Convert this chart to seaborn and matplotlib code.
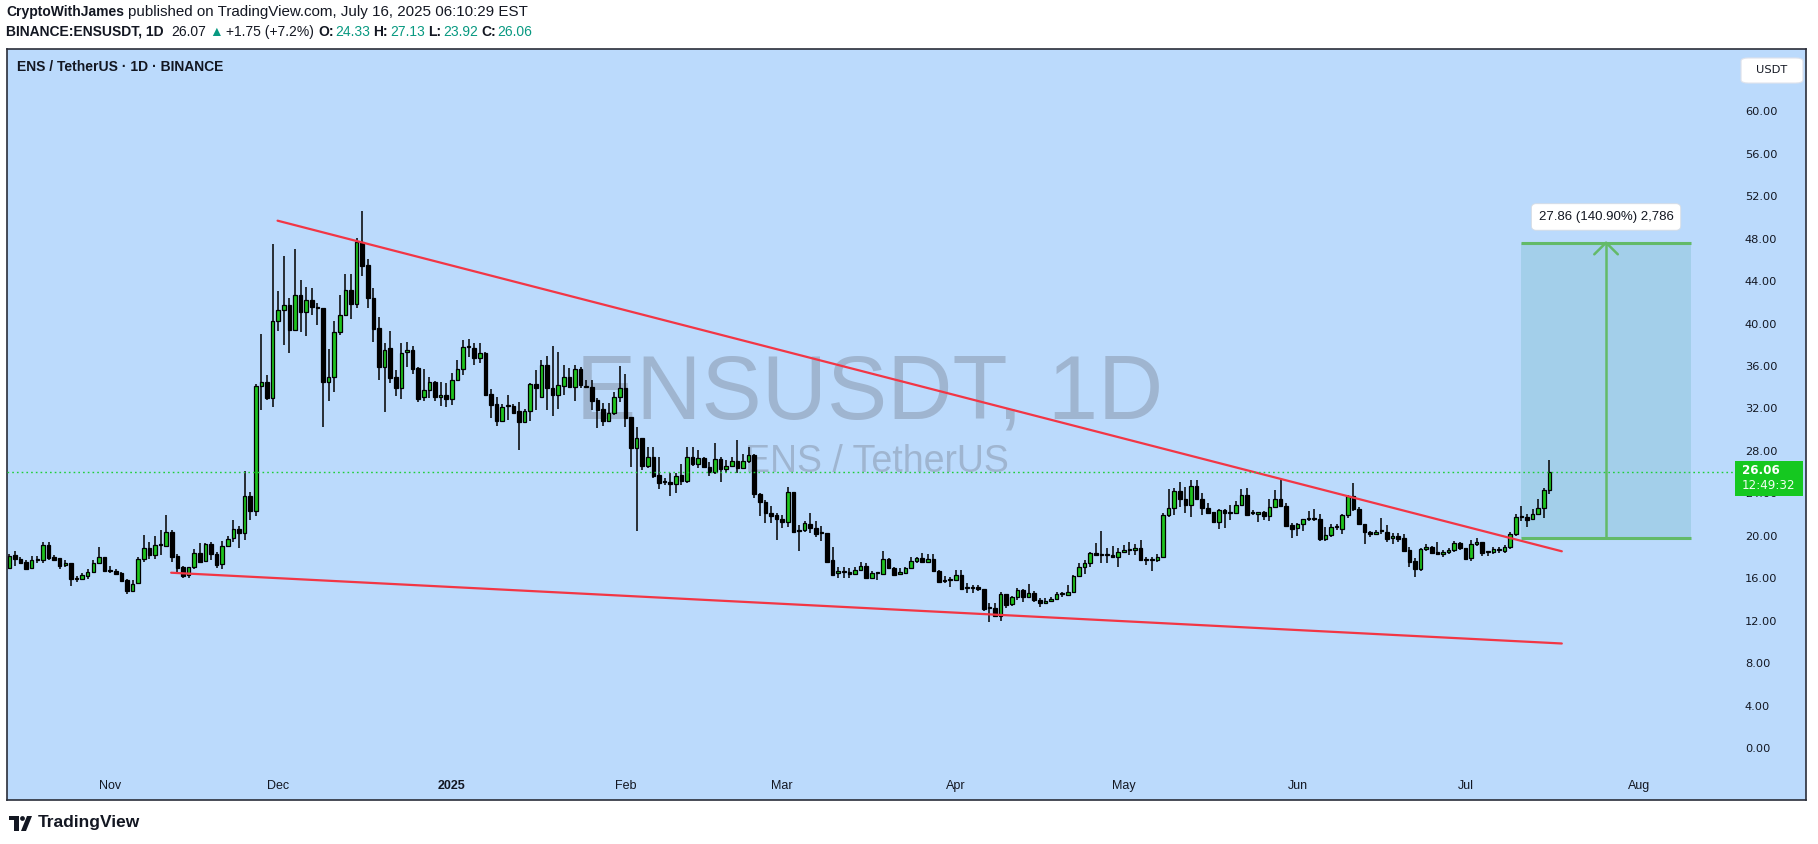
import numpy as np
import pandas as pd
import matplotlib
matplotlib.use("Agg")
import matplotlib.pyplot as plt
import matplotlib.dates as mdates
import seaborn as sns
from matplotlib.patches import Rectangle, FancyBboxPatch, Polygon, Circle
from matplotlib.transforms import blended_transform_factory, IdentityTransform

# ENSUSDT daily candles, 2024-10-14 .. 2025-07-16
start_date = "2024-10-14"
opens = [
    16.93, 18.16, 17.81, 17.50, 16.93, 17.70, 17.69, 19.10, 17.97, 17.88,
    17.22, 17.40, 16.02, 15.96, 16.24, 16.56, 17.40, 17.97, 16.81, 16.71,
    16.46, 15.83, 14.77, 15.52, 17.78, 18.82, 18.16, 19.20, 19.07, 20.33,
    18.06, 17.03, 16.27, 17.03, 18.35, 17.66, 19.20, 18.28, 17.31, 19.01,
    19.76, 20.61, 20.23, 23.72, 22.37, 34.08, 34.49, 32.95, 40.21, 41.25,
    41.72, 39.42, 42.66, 41.06, 42.19, 41.53, 41.47, 34.52, 35.00, 39.17,
    40.77, 43.13, 41.87, 47.69, 45.52, 42.38, 39.55, 35.94, 37.67, 34.96,
    33.96, 37.29, 37.48, 35.78, 33.05, 33.71, 34.46, 33.05, 33.24, 32.92,
    34.65, 35.75, 37.76, 37.67, 36.72, 37.20, 33.33, 32.39, 30.79, 32.20,
    32.20, 31.76, 30.75, 31.73, 34.27, 33.11, 36.06, 33.90, 33.27, 34.12,
    34.93, 34.05, 35.69, 34.05, 34.05, 32.80, 31.92, 30.85, 31.54, 33.05,
    33.96, 31.17, 28.25, 29.19, 26.61, 27.40, 25.70, 25.10, 25.10, 24.85,
    25.70, 25.20, 27.40, 26.74, 27.30, 26.52, 25.98, 27.21, 26.27, 26.61,
    27.08, 26.36, 27.08, 27.62, 23.91, 23.22, 22.15, 21.96, 21.58, 21.33,
    24.16, 20.49, 20.55, 21.08, 20.70, 20.23, 20.23, 17.72, 16.46, 16.62,
    16.56, 16.40, 16.78, 17.15, 16.06, 16.46, 16.40, 17.78, 16.93, 16.40,
    16.53, 16.93, 17.59, 17.91, 17.50, 17.78, 16.71, 15.73, 15.83, 15.80,
    16.27, 15.05, 15.11, 15.14, 14.95, 13.16, 13.16, 12.47, 14.48, 13.54,
    14.20, 14.89, 14.20, 14.58, 13.95, 13.63, 13.85, 14.01, 14.48, 14.38,
    14.67, 16.18, 17.03, 17.40, 18.35, 18.19, 18.19, 18.19, 18.03, 18.47,
    18.66, 18.66, 18.85, 17.69, 17.69, 17.69, 18.03, 21.96, 22.62, 24.19,
    23.47, 22.87, 24.69, 23.47, 22.62, 22.21, 21.33, 22.43, 22.18, 22.18,
    22.90, 23.84, 22.12, 22.05, 22.21, 21.90, 22.75, 23.47, 22.84, 21.02,
    20.77, 21.08, 21.55, 21.55, 21.58, 19.73, 20.04, 20.80, 20.61, 21.93,
    23.72, 22.49, 21.08, 20.39, 20.14, 20.45, 20.33, 19.76, 19.98, 19.76,
    18.66, 17.62, 16.90, 18.72, 18.94, 18.44, 18.25, 18.44, 18.63, 19.29,
    18.82, 17.88, 19.19, 19.38, 18.44, 18.44, 18.63, 18.60, 18.91, 20.14,
    21.80, 21.74, 21.55, 22.02, 22.59, 24.33,
]
highs = [
    18.28, 18.57, 17.97, 17.72, 18.10, 18.10, 19.40, 19.40, 18.16, 17.88,
    17.69, 17.47, 16.21, 16.46, 16.84, 17.72, 18.94, 17.97, 17.15, 16.84,
    16.59, 15.90, 15.83, 17.97, 20.08, 19.40, 19.98, 20.50, 21.96, 20.55,
    18.28, 17.15, 17.09, 18.72, 19.29, 19.35, 19.40, 18.47, 19.54, 19.98,
    21.49, 20.92, 26.10, 24.09, 34.30, 38.98, 35.20, 47.47, 43.07, 46.37,
    42.38, 47.03, 44.10, 43.45, 43.32, 41.90, 41.47, 37.60, 40.24, 42.69,
    44.67, 44.67, 48.03, 50.61, 46.08, 43.38, 40.62, 38.14, 39.30, 35.62,
    38.17, 38.23, 37.89, 35.94, 35.72, 34.93, 34.59, 34.49, 34.43, 35.31,
    36.53, 38.45, 38.51, 38.20, 38.14, 37.29, 33.80, 33.11, 32.42, 33.24,
    32.42, 32.58, 31.91, 34.40, 35.62, 36.57, 36.97, 37.89, 37.29, 36.09,
    35.78, 36.06, 35.94, 34.68, 34.68, 32.95, 32.48, 32.54, 33.52, 36.00,
    35.22, 31.17, 30.22, 29.19, 28.40, 28.34, 27.40, 25.48, 25.95, 25.95,
    26.77, 28.34, 28.34, 28.09, 27.46, 26.99, 28.72, 27.46, 27.15, 27.46,
    29.03, 27.71, 28.34, 27.68, 24.07, 23.38, 22.81, 22.12, 21.96, 24.63,
    24.16, 21.02, 21.40, 22.18, 21.40, 20.93, 20.23, 18.97, 17.09, 17.09,
    16.93, 17.09, 17.50, 17.40, 16.71, 16.62, 18.57, 17.88, 17.09, 16.93,
    17.09, 18.03, 18.03, 18.41, 18.25, 18.25, 16.80, 16.21, 16.15, 16.78,
    16.78, 15.52, 15.36, 15.36, 15.02, 13.63, 13.63, 14.70, 14.48, 14.32,
    15.05, 14.95, 15.46, 14.83, 14.10, 14.10, 14.20, 14.67, 14.67, 15.36,
    16.30, 17.47, 17.72, 18.50, 19.29, 20.45, 18.82, 19.07, 18.82, 19.13,
    19.38, 19.23, 19.60, 18.03, 18.03, 18.28, 22.12, 24.38, 24.53, 25.10,
    24.63, 25.26, 25.26, 24.00, 23.06, 22.27, 22.49, 22.49, 22.90, 23.31,
    24.41, 24.47, 22.43, 22.27, 22.33, 23.47, 24.31, 25.35, 23.06, 21.18,
    21.24, 21.58, 22.33, 22.49, 22.02, 20.80, 21.11, 21.11, 22.02, 23.81,
    24.97, 22.68, 21.08, 20.45, 20.55, 21.65, 21.02, 20.23, 20.23, 20.14,
    18.97, 17.94, 18.88, 19.19, 19.07, 19.38, 18.66, 18.82, 19.51, 19.44,
    18.88, 19.60, 19.76, 19.44, 18.57, 18.97, 18.97, 19.13, 20.33, 22.05,
    22.80, 22.05, 22.49, 23.47, 24.47, 27.13,
]
lows = [
    16.84, 17.19, 17.37, 16.84, 16.84, 17.47, 17.47, 17.72, 17.63, 16.84,
    17.03, 15.30, 15.65, 15.90, 15.90, 16.46, 17.34, 16.62, 16.53, 16.27,
    15.74, 14.55, 14.70, 15.46, 17.56, 17.78, 17.78, 18.16, 18.98, 17.56,
    16.53, 16.05, 16.00, 16.90, 17.40, 17.60, 17.72, 16.97, 16.84, 18.91,
    19.42, 18.88, 19.60, 21.48, 21.90, 31.85, 32.80, 32.17, 39.33, 37.98,
    37.26, 39.33, 39.24, 38.86, 40.84, 39.90, 30.28, 32.73, 33.58, 38.95,
    40.71, 40.46, 41.46, 44.51, 41.50, 38.29, 34.68, 31.70, 34.37, 33.17,
    32.92, 35.87, 35.28, 32.64, 32.73, 33.02, 32.70, 32.23, 32.17, 32.29,
    34.55, 35.15, 36.88, 36.06, 36.25, 33.17, 31.07, 30.35, 30.75, 30.91,
    31.54, 28.08, 30.66, 30.82, 31.85, 33.11, 31.85, 31.29, 31.98, 33.27,
    33.96, 32.70, 33.96, 33.90, 31.85, 30.12, 30.35, 30.75, 31.35, 32.64,
    30.29, 26.52, 20.49, 26.20, 26.36, 25.42, 24.38, 24.79, 23.78, 24.07,
    24.79, 24.95, 26.61, 26.36, 26.36, 25.67, 25.82, 25.10, 25.89, 26.52,
    25.95, 26.27, 26.90, 23.60, 21.87, 21.24, 21.24, 19.60, 20.70, 20.80,
    20.23, 18.60, 20.33, 20.30, 19.92, 19.54, 17.47, 16.21, 15.99, 15.99,
    15.99, 16.31, 16.71, 15.96, 15.99, 15.84, 16.28, 16.84, 16.21, 16.28,
    16.40, 16.84, 17.47, 17.40, 17.40, 16.59, 15.60, 15.58, 15.14, 15.71,
    14.89, 14.58, 14.58, 14.83, 12.91, 11.90, 12.37, 12.00, 13.22, 13.38,
    13.95, 13.79, 14.10, 13.79, 13.32, 13.57, 13.76, 13.95, 14.20, 14.38,
    14.58, 16.08, 16.37, 17.09, 18.10, 17.47, 17.47, 17.97, 17.09, 18.35,
    18.19, 18.19, 17.69, 17.25, 16.71, 17.56, 17.97, 21.80, 21.96, 22.75,
    22.18, 21.74, 23.37, 21.96, 22.12, 21.24, 20.60, 20.70, 21.49, 22.12,
    22.81, 21.93, 21.96, 21.33, 21.49, 21.43, 22.65, 22.75, 20.86, 19.82,
    19.98, 20.48, 21.40, 21.43, 19.54, 19.54, 19.92, 20.55, 20.17, 21.71,
    22.33, 21.02, 19.22, 19.85, 20.07, 20.14, 19.44, 19.19, 19.44, 18.44,
    17.09, 16.08, 16.71, 18.60, 18.35, 18.19, 17.97, 18.28, 18.44, 18.66,
    17.78, 17.66, 19.04, 18.13, 18.13, 18.28, 18.41, 18.35, 18.78, 19.98,
    21.42, 20.86, 21.49, 21.96, 21.71, 23.92,
]
closes = [
    18.13, 17.78, 17.47, 16.90, 17.69, 17.68, 19.10, 17.94, 17.72, 17.19,
    17.40, 15.96, 15.96, 16.27, 16.56, 17.44, 17.97, 16.71, 16.65, 16.43,
    15.77, 14.77, 15.49, 17.78, 18.82, 18.22, 19.10, 19.16, 20.33, 18.03,
    17.00, 16.21, 17.03, 18.35, 17.56, 19.20, 18.25, 17.28, 19.01, 19.67,
    20.61, 20.23, 23.72, 22.37, 34.08, 34.49, 33.00, 40.21, 41.25, 41.72,
    39.42, 42.66, 41.06, 42.19, 41.53, 41.50, 34.52, 35.00, 39.17, 40.77,
    43.13, 41.87, 47.69, 45.46, 42.38, 39.52, 35.94, 37.54, 34.90, 33.96,
    37.26, 37.48, 35.69, 32.92, 33.71, 34.46, 33.05, 33.24, 32.92, 34.65,
    35.69, 37.76, 37.76, 36.72, 37.20, 33.27, 32.32, 30.79, 32.10, 32.20,
    31.60, 30.75, 31.73, 34.27, 33.90, 36.06, 33.90, 33.27, 34.21, 34.93,
    34.05, 35.69, 34.18, 34.05, 32.73, 31.85, 30.85, 31.54, 33.05, 33.96,
    31.14, 28.25, 29.19, 26.61, 27.40, 25.67, 25.01, 25.10, 24.85, 25.67,
    25.20, 27.40, 26.74, 27.30, 26.52, 25.98, 27.21, 26.27, 26.61, 27.08,
    26.36, 27.08, 27.62, 23.91, 23.22, 22.12, 21.90, 21.55, 21.33, 24.16,
    20.33, 20.49, 21.18, 20.70, 20.14, 20.23, 17.56, 16.31, 16.68, 16.62,
    16.37, 16.78, 17.15, 16.06, 16.46, 16.46, 17.78, 16.93, 16.31, 16.62,
    16.96, 17.59, 17.91, 17.53, 17.78, 16.68, 15.67, 15.73, 15.83, 16.27,
    14.95, 15.05, 15.11, 14.95, 13.10, 13.16, 12.47, 14.48, 13.47, 14.20,
    14.89, 14.20, 14.58, 13.95, 13.63, 13.85, 14.04, 14.48, 14.48, 14.67,
    16.18, 17.03, 17.43, 18.35, 18.16, 18.19, 18.19, 18.03, 18.44, 18.66,
    18.66, 18.85, 17.69, 17.69, 17.69, 17.97, 21.96, 22.62, 24.19, 23.43,
    22.87, 24.69, 23.43, 22.62, 22.18, 21.33, 22.43, 22.18, 22.18, 22.90,
    23.84, 21.99, 22.12, 22.21, 21.90, 22.75, 23.47, 22.81, 20.95, 20.64,
    21.08, 21.58, 21.55, 21.55, 19.69, 20.04, 20.80, 20.80, 21.93, 23.72,
    22.49, 21.08, 20.39, 20.14, 20.39, 20.45, 19.70, 19.98, 19.70, 18.60,
    17.56, 16.90, 18.72, 18.94, 18.41, 18.25, 18.44, 18.63, 19.29, 18.82,
    17.84, 19.19, 19.38, 18.35, 18.44, 18.72, 18.72, 18.91, 20.14, 21.80,
    21.80, 21.49, 22.02, 22.59, 24.31, 26.06,
]

# trend lines: (days after start, price)
upper_trend_days = [47.9, 277.2]
upper_trend_price = [49.70, 18.54]
lower_trend_days = [28.9, 277.2]
lower_trend_price = [16.52, 9.85]

# price range tool
range_days = [269.9, 300.3]
range_low, range_high = 19.77, 47.63
range_label = "27.86 (140.90%) 2,786"

price_ticks = [0, 4, 8, 12, 16, 20, 24, 28, 32, 36, 40, 44, 48, 52, 56, 60]
month_starts = ["2024-11-01", "2024-12-01", "2025-01-01", "2025-02-01", "2025-03-01",
                "2025-04-01", "2025-05-01", "2025-06-01", "2025-07-01", "2025-08-01"]
month_labels = ["Nov", "Dec", "2025", "Feb", "Mar", "Apr", "May", "Jun", "Jul", "Aug"]
last_price = 26.06

sns.set_style("white")
plt.rcParams["font.family"] = ["Liberation Sans", "DejaVu Sans"]

BG = "#bbdafc"
GREEN = "#1ec41e"
RED = "#f23645"
TEAL = "#089981"
INK = "#131722"

W, H = 1818, 844
fig = plt.figure(figsize=(W / 100, H / 100), dpi=100, facecolor="white")
ax = fig.add_axes([7 / W, 1 - 800 / H, (1806 - 7) / W, (800 - 49) / H])
ax.set_facecolor(BG)

t0 = mdates.date2num(pd.Timestamp(start_date))
dates = pd.date_range(start_date, periods=len(closes), freq="D")
xs = mdates.date2num(dates)

o = np.array(opens)
c = np.array(closes)
up = c >= o
body_lo = np.minimum(o, c)
body_h = np.maximum(np.abs(c - o), 0.09)
colors = np.where(up, GREEN, "#000000")

# measurement box sits under the candles
ax.add_patch(Rectangle((t0 + range_days[0], range_low), range_days[1] - range_days[0],
                       range_high - range_low, fc="#a3cfea", ec="none", zorder=1.2))
ax.hlines([range_low, range_high], t0 + range_days[0], t0 + range_days[1],
          color="#63ba68", lw=2.2, zorder=1.3)
mid = t0 + (range_days[0] + range_days[1]) / 2
ax.plot([mid, mid], [range_low, range_high], color="#63ba68", lw=1.8, zorder=1.3)
ax.plot([mid - 2.1, mid, mid + 2.1], [range_high - 1.1, range_high, range_high - 1.1],
        color="#63ba68", lw=1.8, zorder=1.3)
ax.text(mid, 50.05, range_label, ha="center", va="center", fontsize=9.5, color=INK,
        zorder=8, bbox=dict(boxstyle="round,pad=0.55,rounding_size=0.35", fc="white",
                            ec="#d5dbe3", lw=0.6))

# watermark
ax.text(870 / W, 1 - 419 / H, "ENSUSDT, 1D", transform=fig.transFigure, ha="center",
        va="baseline", fontsize=65, color="#9fb5d0", zorder=0.5)
ax.text(877 / W, 1 - 472 / H, "ENS / TetherUS", transform=fig.transFigure, ha="center",
        va="baseline", fontsize=27, color="#9fb5d0", zorder=0.5)

# candles
ax.vlines(xs, lows, highs, color="#000000", lw=1.1, zorder=3)
ax.bar(xs, body_h, bottom=body_lo, width=0.64, color=colors, edgecolor="#000000",
       linewidth=0.9, zorder=4)

# trend lines
sns.lineplot(x=[t0 + d for d in upper_trend_days], y=upper_trend_price, ax=ax,
             color=RED, lw=1.6, zorder=5)
sns.lineplot(x=[t0 + d for d in lower_trend_days], y=lower_trend_price, ax=ax,
             color=RED, lw=1.6, zorder=5)

ax.set_xlim(t0 - 0.41, t0 + 320.8)
ax.set_ylim(-4.9, 65.88)

# last price dotted line + label
ax.axhline(last_price, xmin=0, xmax=(1735 - 7) / 1799, color="#1fcf3a",
           ls=(0, (1.2, 2.2)), lw=1.0, zorder=6)
tr = blended_transform_factory(ax.transAxes, ax.transData)
ax.add_patch(Rectangle((0.9605, 23.75), 0.0378, 3.3, transform=tr, fc="#15c820",
                       ec="none", clip_on=False, zorder=10))
ax.text(0.9645, 26.12, f"{last_price:.2f}", transform=tr, ha="left", va="center",
        fontsize=8.6, color="white", fontweight="bold", family="DejaVu Sans", zorder=11)
ax.text(0.9645, 24.72, "12:49:32", transform=tr, ha="left", va="center",
        fontsize=8.6, color="#f0fff0", family="DejaVu Sans", zorder=11)

# USDT box
ax.add_patch(FancyBboxPatch((0.9639, 0.9547), 0.0344, 0.0333, boxstyle="round,pad=0,rounding_size=0.004",
                            transform=ax.transAxes, fc="white", ec="#e0e3eb", lw=0.8, zorder=10))
ax.text(0.981, 0.9714, "USDT", transform=ax.transAxes, ha="center", va="center",
        fontsize=8.2, color=INK, family="DejaVu Sans", zorder=11)

# axes
ax.set_yticks(price_ticks)
ax.set_yticklabels([f"{v:.2f}" for v in price_ticks])
ax.yaxis.tick_right()
ax.tick_params(axis="y", length=0, pad=-44, labelsize=8.2, labelcolor=INK)
for lab in ax.get_yticklabels():
    lab.set_fontfamily("DejaVu Sans")
ax.set_xticks(mdates.date2num(pd.to_datetime(month_starts)))
ax.set_xticklabels(month_labels)
ax.tick_params(axis="x", length=0, pad=-14.4, labelsize=9, labelcolor=INK)
for lab in ax.get_xticklabels():
    if lab.get_text() == "2025":
        lab.set_fontweight("bold")
for s in ax.spines.values():
    s.set_color("#2a2e39")
    s.set_linewidth(1.2)
ax.set_xlabel("")
ax.set_ylabel("")

# header texts (pixel coordinates)
ident = IdentityTransform()


def put_runs(x, y, runs):
    r = fig.canvas.get_renderer()
    for s, col, wt, size, gap in runs:
        t = fig.text(x, y, s, color=col, fontweight=wt, fontsize=size, va="center",
                     ha="left", transform=ident)
        x += t.get_window_extent(renderer=r).width + gap
    return x


put_runs(6, H - 12, [("CryptoWithJames", INK, "bold", 10, 4),
                     ("published on TradingView.com, July 16, 2025 06:10:29 EST", INK, "normal", 10.9, 0)])
put_runs(6, H - 32, [("BINANCE:ENSUSDT, 1D", INK, "bold", 10, 8),
                     ("26.07", INK, "normal", 10, 3),
                     ("▲", TEAL, "normal", 10, 3),
                     ("+1.75 (+7.2%)", INK, "normal", 10, 4),
                     ("O:", INK, "bold", 10, 2), ("24.33", TEAL, "normal", 10, 3),
                     ("H:", INK, "bold", 10, 2), ("27.13", TEAL, "normal", 10, 3),
                     ("L:", INK, "bold", 10, 2), ("23.92", TEAL, "normal", 10, 3),
                     ("C:", INK, "bold", 10, 2), ("26.06", TEAL, "normal", 10, 0)])
fig.text(17, H - 67, "ENS / TetherUS · 1D · BINANCE", transform=ident, fontsize=10,
         fontweight="bold", color=INK, va="center", ha="left")

# TradingView logo
fig.patches.append(Polygon([(9, H - 816), (19, H - 816), (19, H - 831), (14, H - 831),
                            (14, H - 820), (9, H - 820)], closed=True, fc=INK, ec="none",
                           transform=ident, figure=fig))
fig.patches.append(Circle((22.5, H - 818.5), 2.4, fc=INK, ec="none", transform=ident, figure=fig))
fig.patches.append(Polygon([(21, H - 831), (26, H - 831), (32, H - 816), (27, H - 816)],
                           closed=True, fc=INK, ec="none", transform=ident, figure=fig))
fig.text(38, H - 823, "TradingView", transform=ident, fontsize=12.5, fontweight="bold",
         color=INK, va="center", ha="left")

fig.savefig("out.png", dpi=100, facecolor="white")
